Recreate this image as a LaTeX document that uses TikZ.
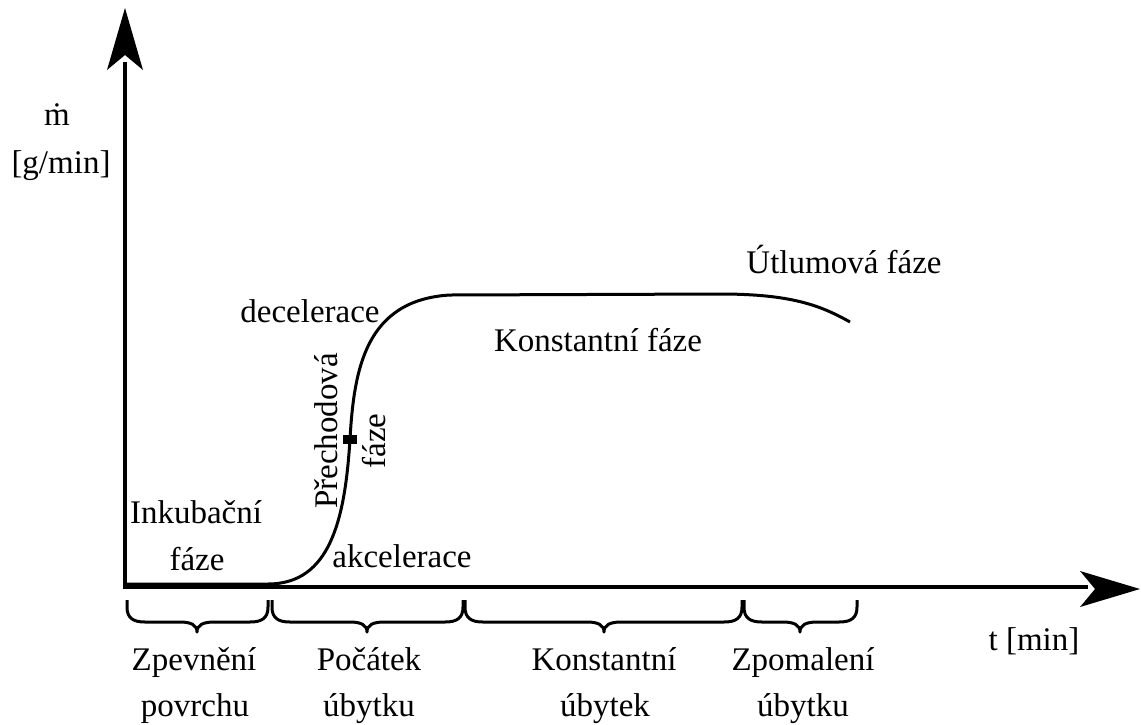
\documentclass[tikz,border=0pt]{standalone}
\usepackage{fontspec}
\setmainfont{Liberation Serif}
\newcommand{\mybrace}[3]{%
  \draw[brc] (#1,600) -- (#1,607) .. controls (#1,618) and (#1+6,622) .. (#1+18,622)
    -- (#2-17,622) .. controls (#2-6,622) and (#2,625) .. (#2,632)
    .. controls (#2,625) and (#2+6,622) .. (#2+17,622)
    -- (#3-18,622) .. controls (#3-6,622) and (#3,618) .. (#3,607) -- (#3,600);}
\begin{document}
\begin{tikzpicture}[x=1pt,y=-1pt,
  lbl/.style={anchor=base,inner sep=0pt,font=\fontsize{33}{40}\selectfont},
  rlbl/.style={inner sep=0pt,font=\fontsize{33}{40}\selectfont,rotate=90},
  axis/.style={line width=3.5pt},
  curve/.style={line width=3pt},
  brc/.style={line width=3pt,line join=round},
  head/.style={fill=black,draw=none}]
\useasboundingbox (0,0) rectangle (1141,724);
% axes
\coordinate (O) at (125,587);
\coordinate (Ytop) at (125,62);
\coordinate (Xend) at (1088,587);
\draw[axis] (O) -- (Ytop);
\draw[axis] (123.25,587) -- (Xend);
\fill[head] (125,8) -- (143,70) -- (125,55) -- (107,70) -- cycle;
\fill[head] (1140,589) -- (1080,607) -- (1095,589) -- (1080,571) -- cycle;
% curve
\coordinate (c0) at (125,584);
\coordinate (c1) at (268,584);
\coordinate (cm) at (350,439);
\coordinate (c2) at (450,295);
\coordinate (c3) at (720,294);
\coordinate (c4) at (850,322);
\draw[curve] (c0) -- (c1) .. controls (330,584) and (345,520) .. (cm)
  .. controls (354,370) and (365,300) .. (c2) -- (c3)
  .. controls (790,294) and (820,305) .. (c4);
\node[fill=black,minimum width=14pt,minimum height=9pt,inner sep=0pt] (mk) at (cm) {};
% braces
\mybrace{127}{197}{268}
\mybrace{272}{367}{463}
\mybrace{465}{604}{742}
\mybrace{744}{800}{857}
% labels
\node[lbl] (mdot) at (57,125) {ṁ};
\node[lbl] (unit) at (61,173) {[g/min]};
\node[lbl] (ink1) at (196,523) {Inkubační};
\node[lbl] (ink2) at (197,570) {fáze};
\node[lbl] (dec) at (310,322) {decelerace};
\node[lbl] (akc) at (402,567) {akcelerace};
\node[rlbl] (pre) at (326,431) {Přechodová};
\node[rlbl] (fz) at (374,441) {fáze};
\node[lbl] (kf) at (598,351) {Konstantní fáze};
\node[lbl] (utl) at (844,273) {Útlumová fáze};
\node[lbl] (zp1) at (194,670) {Zpevnění};
\node[lbl] (zp2) at (195,716) {povrchu};
\node[lbl] (po1) at (369,670) {Počátek};
\node[lbl] (po2) at (369,716) {úbytku};
\node[lbl] (ko1) at (604,670) {Konstantní};
\node[lbl] (ko2) at (605,716) {úbytek};
\node[lbl] (zm1) at (803,670) {Zpomalení};
\node[lbl] (zm2) at (803,716) {úbytku};
\node[lbl] (t) at (1034,650) {t [min]};
\end{tikzpicture}
\end{document}
